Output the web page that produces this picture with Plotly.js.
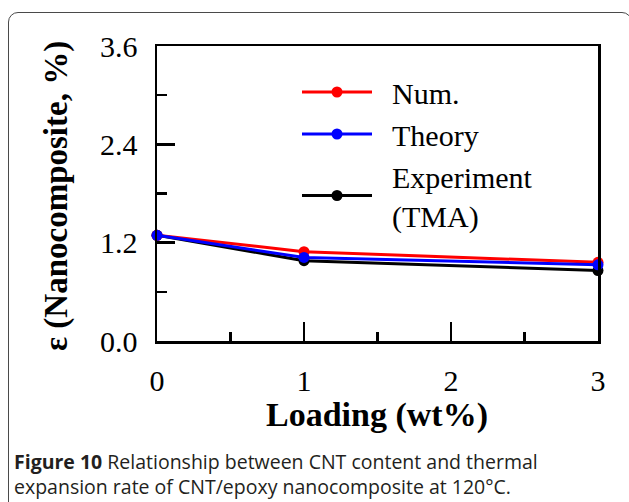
<!DOCTYPE html>
<html>
<head>
<meta charset="utf-8">
<script src="https://cdn.plot.ly/plotly-3.0.1.min.js"></script>
<style>
  html, body { margin: 0; padding: 0; background: #fff; }
  #wrap { position: relative; width: 629px; height: 502px; overflow: hidden; }
  #chart { position: absolute; left: 0; top: 0; width: 629px; height: 502px; }
  #frame { position: absolute; left: 8px; top: 12px; width: 624px; height: 500px;
           border: 1.5px solid #4a4a4a; border-radius: 10px; pointer-events: none; box-sizing: border-box; }
</style>
</head>
<body>
<div id="wrap">
  <div id="chart"></div>
  <div id="frame"></div>
</div>
<script>
// Data
const loading = [0, 1, 3];
const numValues = [1.29, 1.09, 0.96];
const theoryValues = [1.29, 1.02, 0.93];
const experimentValues = [1.29, 0.98, 0.86];
const seriesNames = ["\u00a0\u00a0Num.", "\u00a0\u00a0Theory", "\u00a0\u00a0Experiment<br>\u00a0\u00a0(TMA)"];
const yTickVals = [0, 1.2, 2.4, 3.6];
const xTickVals = [0, 1, 2, 3];

// Plot area in pixels
const L = 157, R = 598, T = 46, B = 341;
const W = 629, H = 502;
const px = x => (x - L) / (R - L);
const py = y => (B - y) / (B - T);

const serif = "Liberation Serif, Times New Roman, serif";

function trace(y, name, color, rank) {
  return {
    x: loading, y: y, name: name, type: "scatter", mode: "lines+markers",
    line: { color: color, width: 3 },
    marker: { color: color, size: 11 },
    cliponaxis: false,
    legendrank: rank
  };
}

const data = [
  trace(experimentValues, seriesNames[2], "#000000", 3),
  trace(numValues, seriesNames[0], "#ff0000", 1),
  trace(theoryValues, seriesNames[1], "#0000ff", 2)
];

const axisCommon = {
  showgrid: false, zeroline: false, showline: true, linecolor: "#000", linewidth: 2.5,
  mirror: true, ticks: "inside", tickcolor: "#000", tickwidth: 2.5,
  tickfont: { family: serif, size: 30, color: "#000" }, fixedrange: true
};

const layout = {
  width: W, height: H,
  margin: { l: L, r: W - R, t: T, b: H - B, pad: 0 },
  paper_bgcolor: "rgba(0,0,0,0)", plot_bgcolor: "#fff",
  showlegend: true,
  legend: {
    x: px(297), y: py(66), xanchor: "left", yanchor: "top",
    bgcolor: "rgba(0,0,0,0)", borderwidth: 0,
    font: { family: serif, size: 30, color: "#000" },
    itemwidth: 70, tracegroupgap: 0
  },
  xaxis: Object.assign({}, axisCommon, {
    range: [0, 3], tickvals: xTickVals, ticklen: 19, ticklabelstandoff: 11,
    minor: { dtick: 0.5, ticks: "inside", ticklen: 9, tickwidth: 2.5, tickcolor: "#000", showgrid: false }
  }),
  yaxis: Object.assign({}, axisCommon, {
    range: [0, 3.6], tickvals: yTickVals, tickformat: ".1f", ticklen: 18, ticklabelstandoff: 11,
    minor: { dtick: 0.6, ticks: "inside", ticklen: 10, tickwidth: 2.5, tickcolor: "#000", showgrid: false }
  }),
  annotations: [
    { text: "<b>ε (Nanocomposite, %)</b>", xref: "paper", yref: "paper",
      x: px(56), y: py(196), xanchor: "center", yanchor: "middle", textangle: -90, showarrow: false,
      font: { family: serif, size: 33, color: "#000" } },
    { text: "<b>Loading (wt%)</b>", xref: "paper", yref: "paper",
      x: px(377), y: py(415), xanchor: "center", yanchor: "middle", showarrow: false,
      font: { family: serif, size: 34, color: "#000" } },
    { text: "<b>Figure 10</b> Relationship between CNT content and thermal<br>expansion rate of CNT/epoxy nanocomposite at 120°C.",
      xref: "paper", yref: "paper", x: px(12), y: py(474), xanchor: "left", yanchor: "middle",
      align: "left", showarrow: false,
      font: { family: "Open Sans, sans-serif", size: 19.5, color: "#231f20" } }
  ]
};

Plotly.newPlot("chart", data, layout, { displayModeBar: false, staticPlot: true });
</script>
</body>
</html>
